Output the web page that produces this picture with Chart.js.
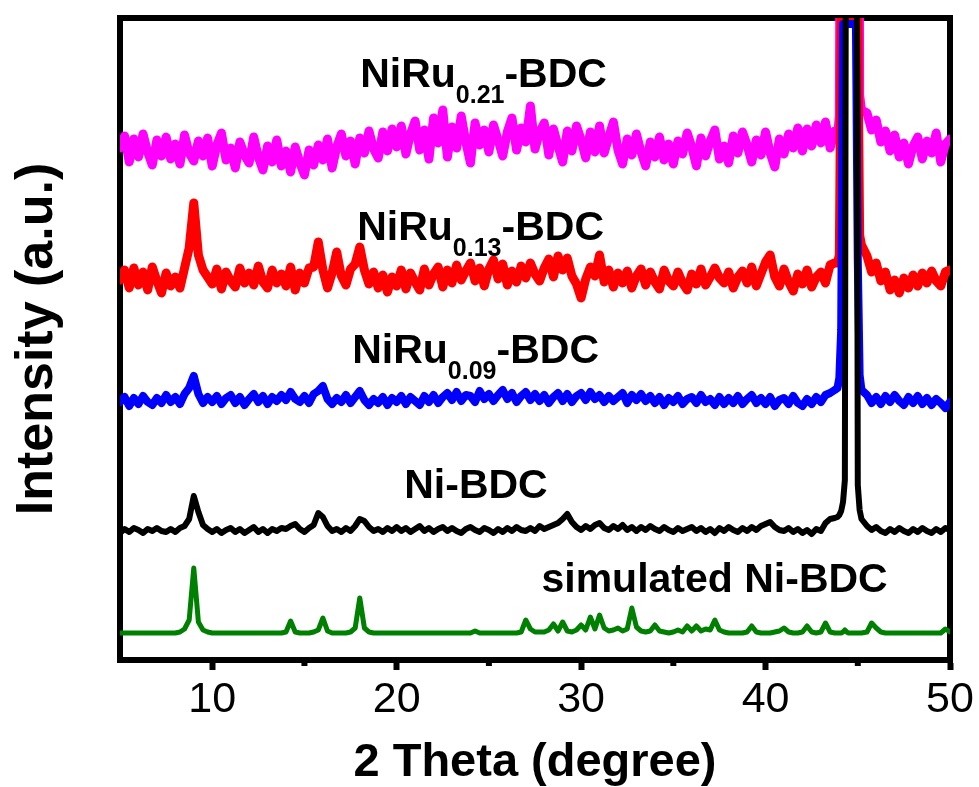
<!DOCTYPE html>
<html>
<head>
<meta charset="utf-8">
<script src="https://cdn.jsdelivr.net/npm/chart.js@4.4.1/dist/chart.umd.min.js"></script>
<style>
  html, body { margin: 0; padding: 0; background: #fff; }
  canvas { display: block; }
</style>
</head>
<body>
<canvas id="xrd" width="979" height="787"></canvas>
<script>
// 2θ grid (degree), finer around the 44.5° substrate peak
const twoTheta = [
  5, 5.25, 5.5, 5.75, 6, 6.25, 6.5, 6.75, 7, 7.25, 7.5, 7.75, 8, 8.25, 8.5, 8.75,
  9, 9.25, 9.5, 9.75, 10, 10.25, 10.5, 10.75, 11, 11.25, 11.5, 11.75, 12, 12.25, 12.5, 12.75,
  13, 13.25, 13.5, 13.75, 14, 14.25, 14.5, 14.75, 15, 15.25, 15.5, 15.75, 16, 16.25, 16.5, 16.75,
  17, 17.25, 17.5, 17.75, 18, 18.25, 18.5, 18.75, 19, 19.25, 19.5, 19.75, 20, 20.25, 20.5, 20.75,
  21, 21.25, 21.5, 21.75, 22, 22.25, 22.5, 22.75, 23, 23.25, 23.5, 23.75, 24, 24.25, 24.5, 24.75,
  25, 25.25, 25.5, 25.75, 26, 26.25, 26.5, 26.75, 27, 27.25, 27.5, 27.75, 28, 28.25, 28.5, 28.75,
  29, 29.25, 29.5, 29.75, 30, 30.25, 30.5, 30.75, 31, 31.25, 31.5, 31.75, 32, 32.25, 32.5, 32.75,
  33, 33.25, 33.5, 33.75, 34, 34.25, 34.5, 34.75, 35, 35.25, 35.5, 35.75, 36, 36.25, 36.5, 36.75,
  37, 37.25, 37.5, 37.75, 38, 38.25, 38.5, 38.75, 39, 39.25, 39.5, 39.75, 40, 40.25, 40.5, 40.75,
  41, 41.25, 41.5, 41.75, 42, 42.25, 42.5, 42.75, 43, 43.25, 43.5, 43.75,
  43.9, 44, 44.1, 44.2, 44.3, 44.4, 44.5, 44.6, 44.7, 44.8, 44.9, 45, 45.1, 45.2,
  45.5, 45.75, 46, 46.25, 46.5, 46.75, 47, 47.25, 47.5, 47.75, 48, 48.25, 48.5, 48.75,
  49, 49.25, 49.5, 49.75, 50
];

// intensities (a.u.), already offset for stacking
const niRu021 = [
  512, 524, 498, 521, 503, 526, 508, 495, 520, 504, 523, 501, 516, 496, 525, 507,
  499, 519, 504, 522, 494, 515, 527, 500, 512, 492, 518, 505, 497, 523, 503, 490,
  514, 498, 520, 494, 509, 488, 513, 497, 485, 510, 495, 515, 500, 521, 492, 513,
  526, 504, 519, 496, 522, 507, 529, 511, 502, 528, 509, 531, 513, 534, 506, 526,
  539, 510, 530, 501, 542, 517, 550, 503, 533, 512, 544, 518, 497, 537, 515, 530,
  508, 535, 520, 504, 528, 542, 510, 532, 518, 554, 511, 528, 537, 505, 531, 514,
  498, 529, 509, 534, 520, 502, 528, 508, 534, 507, 523, 538, 510, 496, 521, 505,
  526, 508, 494, 518, 503, 523, 500, 516, 496, 519, 506, 527, 513, 494, 522, 504,
  519, 530, 501, 514, 497, 524, 507, 528, 515, 498, 520, 505, 528, 507, 493, 521,
  506, 526, 512, 532, 509, 531, 514, 535, 517, 538, 512, 529,
  522, 545, 1000, 2000, 2000, 2000, 2000, 2000, 2000, 2000, 2000, 1400, 565, 550,
  547, 530, 540, 518, 529, 509, 525, 503, 517, 496, 514, 523, 501, 519,
  507, 527, 498, 516, 521
];
const niRu013 = [
  380, 390, 372, 392, 375, 388, 370, 393, 379, 367, 387, 374, 383, 372, 392, 412,
  457, 405, 390, 383, 376, 391, 371, 388, 379, 373, 392, 377, 387, 375, 394, 378,
  372, 390, 377, 386, 374, 393, 370, 387, 377, 392, 393, 418, 390, 372, 387, 408,
  384, 375, 391, 396, 413, 390, 376, 388, 372, 385, 368, 383, 374, 390, 371, 387,
  378, 370, 391, 375, 386, 393, 373, 390, 377, 395, 380, 389, 397, 379, 392, 374,
  391, 400, 381, 396, 375, 389, 378, 394, 382, 397, 386, 379, 392, 401, 383, 404,
  390, 402, 384, 376, 362, 381, 393, 384, 405, 378, 390, 373, 387, 377, 389, 372,
  384, 391, 375, 388, 378, 371, 390, 379, 374, 388, 377, 370, 386, 376, 391, 375,
  383, 392, 382, 377, 388, 372, 383, 389, 377, 393, 374, 386, 398, 405, 383, 374,
  391, 378, 369, 386, 376, 390, 373, 383, 388, 377, 395, 397,
  397, 405, 642, 642, 642, 642, 642, 642, 642, 642, 642, 642, 425, 415,
  404, 388, 397, 379, 388, 370, 380, 367, 382, 372, 385, 374, 387, 377,
  389, 379, 374, 388, 390
];
const niRu009 = [
  258, 263, 254, 262, 256, 264, 258, 255, 262, 257, 265, 258, 263, 256, 266, 272,
  284, 266, 257, 263, 258, 264, 256, 262, 265, 257, 263, 255, 261, 266, 258, 264,
  256, 263, 259, 265, 260, 268, 261, 258, 264, 257, 266, 269, 274, 261, 256, 262,
  258, 265, 257, 263, 269, 260, 255, 261, 257, 263, 255, 262, 258, 264, 256, 263,
  259, 255, 264, 258, 265, 257, 263, 267, 260, 268, 259, 265, 264, 258, 269, 261,
  266, 259, 265, 270, 261, 267, 258, 264, 268, 260, 266, 259, 265, 257, 263, 267,
  259, 266, 258, 264, 267, 260, 268, 261, 265, 258, 264, 259, 263, 267, 257, 265,
  260, 266, 259, 264, 257, 263, 255, 262, 258, 264, 256, 261, 263, 257, 265, 258,
  261, 255, 263, 256, 262, 257, 264, 256, 261, 265, 257, 262, 256, 263, 254, 260,
  262, 256, 264, 257, 254, 261, 256, 263, 258, 265, 267, 270,
  272, 282, 330, 636, 636, 636, 636, 636, 636, 636, 636, 400, 285, 270,
  265, 257, 263, 256, 264, 258, 265, 259, 255, 263, 257, 264, 256, 262,
  255, 261, 257, 252, 258
];
const niBDC = [
  127, 131, 128, 132, 130, 127, 131, 129, 132, 129, 128, 131, 128, 132, 134, 141,
  164, 148, 135, 131, 128, 131, 127, 130, 132, 128, 131, 127, 130, 133, 128, 131,
  127, 131, 129, 132, 131, 134, 136, 131, 128, 132, 135, 147, 143, 134, 129, 131,
  128, 132, 129, 134, 141, 139, 133, 129, 131, 128, 132, 129, 133, 129, 132, 128,
  131, 134, 129, 132, 128, 131, 133, 129, 132, 129, 127, 131, 133, 130, 128, 132,
  130, 127, 131, 128, 132, 129, 133, 130, 129, 132, 129, 134, 131, 133, 135, 137,
  141, 146, 138, 133, 130, 134, 131, 135, 137, 132, 130, 134, 131, 135, 130, 133,
  129, 133, 130, 134, 131, 129, 133, 130, 128, 132, 129, 131, 133, 129, 132, 128,
  131, 127, 132, 129, 133, 130, 128, 132, 129, 133, 130, 134, 136, 138, 133, 130,
  129, 132, 128, 131, 127, 130, 126, 131, 129, 137, 141, 142,
  143, 145, 149, 158, 180, 1200, 2500, 2500, 2500, 2500, 1200, 175, 150, 141,
  134, 130, 133, 129, 127, 131, 128, 132, 129, 127, 131, 128, 132, 129,
  127, 131, 128, 132, 130
];
const simulated = [
  27, 27, 27, 27, 27, 27, 27, 27, 27, 27, 27, 27, 27, 28, 31, 40,
  92, 38, 30, 28, 27, 27, 27, 27, 27, 27, 27, 27, 27, 27, 27, 27,
  27, 27, 27, 27, 28, 39, 28, 27, 27, 27, 28, 30, 42, 29, 27, 27,
  27, 27, 28, 32, 62, 32, 28, 27, 27, 27, 27, 27, 27, 27, 27, 27,
  27, 27, 27, 27, 27, 27, 27, 27, 27, 27, 27, 27, 27, 29, 27, 27,
  27, 27, 27, 27, 27, 27, 27, 28, 40, 31, 28, 28, 28, 30, 36, 29,
  38, 29, 28, 30, 35, 30, 43, 31, 45, 32, 29, 30, 32, 29, 31, 52,
  33, 29, 28, 29, 35, 29, 28, 27, 28, 30, 28, 34, 29, 34, 29, 31,
  30, 40, 30, 28, 27, 27, 27, 27, 28, 34, 28, 27, 27, 27, 28, 29,
  32, 28, 27, 27, 28, 34, 28, 27, 28, 37, 28, 27,
  27, 27, 27, 28, 30, 28, 27, 27, 27, 27, 27, 27, 27, 27,
  28, 37, 32, 28, 27, 27, 27, 27, 27, 27, 27, 27, 27, 27,
  27, 27, 27, 31, 28
];

const minorTicks = [15, 25, 35, 45];

const FONT = '"Liberation Sans", Arial, sans-serif';

const sampleLabels = [
  { x: 18.02, y: 573, parts: [['NiRu', 0], ['0.21', 1], ['-BDC', 0]] },
  { x: 17.86, y: 420, parts: [['NiRu', 0], ['0.13', 1], ['-BDC', 0]] },
  { x: 17.59, y: 297, parts: [['NiRu', 0], ['0.09', 1], ['-BDC', 0]] },
  { x: 20.41, y: 162, parts: [['Ni-BDC', 0]] },
  { x: 27.85, y: 68, parts: [['simulated Ni-BDC', 0]] }
];

function points(ys) {
  return twoTheta.map((x, i) => ({ x: x, y: ys[i] }));
}

// top/right frame and short minor ticks under the x axis
const frame = {
  id: 'frame',
  beforeDatasetsDraw(chart) {
    const { ctx, chartArea: a, scales } = chart;
    ctx.save();
    ctx.strokeStyle = '#000';
    ctx.lineWidth = 6;
    ctx.beginPath();
    ctx.moveTo(a.left - 3, a.top);
    ctx.lineTo(a.right, a.top);
    ctx.lineTo(a.right, a.bottom + 3);
    ctx.stroke();
    minorTicks.forEach(v => {
      const px = scales.x.getPixelForValue(v);
      ctx.beginPath();
      ctx.moveTo(px, a.bottom);
      ctx.lineTo(px, a.bottom + 6);
      ctx.stroke();
    });
    ctx.restore();
  }
};

// sample names with subscripted Ru content
const nameTags = {
  id: 'nameTags',
  afterDatasetsDraw(chart) {
    const { ctx, scales } = chart;
    ctx.save();
    ctx.fillStyle = '#000';
    ctx.textAlign = 'left';
    ctx.textBaseline = 'alphabetic';
    sampleLabels.forEach(lbl => {
      let px = scales.x.getPixelForValue(lbl.x);
      const py = scales.y.getPixelForValue(lbl.y);
      lbl.parts.forEach(([txt, sub]) => {
        ctx.font = sub ? 'bold 25px ' + FONT : 'bold 41px ' + FONT;
        ctx.fillText(txt, px, sub ? py + 16 : py);
        px += ctx.measureText(txt).width;
      });
    });
    ctx.restore();
  }
};

const line = (data, color, width) => ({
  data: points(data),
  borderColor: color,
  backgroundColor: color,
  borderWidth: width,
  fill: false,
  pointRadius: 0
});

new Chart(document.getElementById('xrd'), {
  type: 'line',
  data: {
    datasets: [
      line(niBDC, '#000000', 6),
      line(niRu009, '#0000FF', 8),
      line(niRu013, '#FF0000', 9),
      line(niRu021, '#FF00FF', 9),
      line(simulated, '#008000', 5)
    ]
  },
  options: {
    responsive: false,
    animation: false,
    layout: { padding: { top: 18, right: 29, left: 0, bottom: 0 } },
    plugins: { legend: { display: false }, tooltip: { enabled: false } },
    elements: { line: { tension: 0, borderJoinStyle: 'round', borderCapStyle: 'round' } },
    scales: {
      x: {
        type: 'linear',
        min: 5,
        max: 50,
        afterFit: s => { s.height = 127; },
        ticks: {
          stepSize: 5,
          autoSkip: false,
          maxRotation: 0,
          color: '#000',
          padding: 4,
          font: { family: FONT, size: 43 },
          callback: v => (v % 10 === 0 ? v : '')
        },
        grid: {
          drawOnChartArea: false,
          drawTicks: true,
          tickLength: 10,
          tickWidth: 6,
          tickColor: c => (c.tick && c.tick.value % 10 === 0 ? '#000' : 'rgba(0,0,0,0)')
        },
        border: { display: true, color: '#000', width: 6 },
        title: {
          display: true,
          text: '2 Theta (degree)',
          color: '#000',
          font: { family: FONT, size: 47, weight: 'bold', lineHeight: 1 },
          padding: { top: 0, bottom: 0 }
        }
      },
      y: {
        min: 0,
        max: 642,
        afterFit: s => { s.width = 120; },
        ticks: { display: false },
        grid: { display: false },
        border: { display: true, color: '#000', width: 6 },
        title: {
          display: true,
          text: 'Intensity (a.u.)',
          color: '#000',
          font: { family: FONT, size: 52, weight: 'bold', lineHeight: 1 },
          padding: { top: 12, bottom: 0 }
        }
      }
    }
  },
  plugins: [frame, nameTags]
});
</script>
</body>
</html>
